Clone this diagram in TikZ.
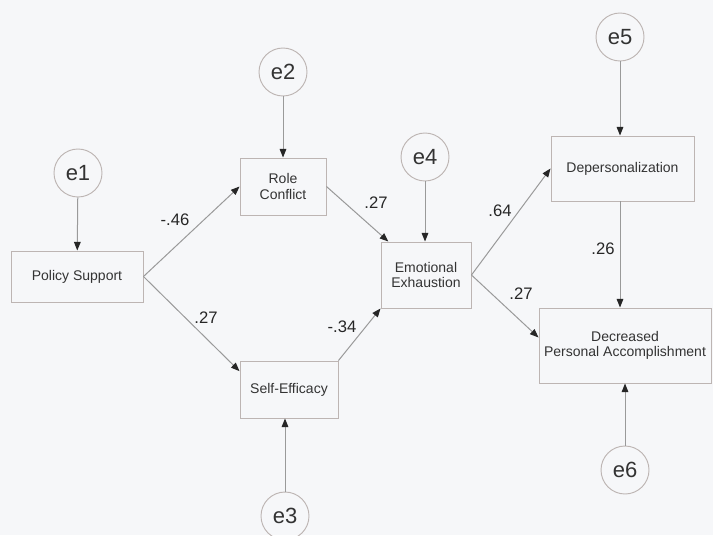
\documentclass[tikz,border=0pt]{standalone}
\usepackage{fontspec}
\setmainfont{Liberation Sans}
\usepackage{xcolor}
\usetikzlibrary{arrows.meta}

\definecolor{bgcol}{HTML}{F6F7F9}
\definecolor{boxline}{HTML}{BDB5B3}
\definecolor{linecol}{HTML}{9A9A9A}

\begin{document}
\begin{tikzpicture}[
    x=0.75pt, y=-0.75pt,
    every node/.style={align=center, text=black!80},
    box/.style={draw=boxline, line width=0.7pt, inner sep=0pt, font=\fontsize{10.5}{11.5}\selectfont},
    err/.style={circle, draw=boxline, line width=0.7pt, minimum size=36pt, inner sep=0pt, font=\fontsize{16.5}{17}\selectfont},
    coef/.style={font=\fontsize{12.5}{14}\selectfont, text=black!85},
    arrow/.style={-{Triangle[length=6.5pt, width=5pt, color=black!85]}, draw=linecol, line width=0.75pt}
]
\useasboundingbox (0,0) rectangle (713,535);
\fill[bgcol] (0,0) rectangle (713,535);

% observed variables
\node[box, minimum width=99pt, minimum height=38.25pt] (ps) at (77,276.5) {Policy Support};
\node[box, minimum width=64.5pt, minimum height=42.75pt] (rc) at (283,186.5) {Role\\Conflict};
\node[box, minimum width=73.5pt, minimum height=42.75pt] (se) at (289,389.5) {Self-Efficacy};
\node[box, minimum width=67.5pt, minimum height=49.5pt] (ee) at (426,275) {Emotional\\Exhaustion};
\node[box, minimum width=107.25pt, minimum height=48.75pt] (dep) at (622.5,168.5) {Depersonalization};
\node[box, minimum width=129pt, minimum height=56.25pt] (dpa) at (625,345.5) {Decreased\\Personal Accomplishment};

% error terms
\node[err] (e1) at (78,173) {e1};
\node[err] (e2) at (283,72) {e2};
\node[err] (e3) at (285,516) {e3};
\node[err] (e4) at (425,157) {e4};
\node[err] (e5) at (620,37) {e5};
\node[err] (e6) at (625,470) {e6};

% paths
\draw[arrow] (e1) -- (ps);
\draw[arrow] (e2) -- (rc);
\draw[arrow] (e3) -- (e3 |- se.south);
\draw[arrow] (e4) -- (e4 |- ee.north);
\draw[arrow] (e5) -- (e5 |- dep.north);
\draw[arrow] (e6) -- (dpa);
\draw[arrow] (ps.east) -- (rc.west);
\draw[arrow] (ps.east) -- ([yshift=-8pt]se.north west);
\draw[arrow] (rc.east) -- (ee);
\draw[arrow] (se.north east) -- (ee.south west);
\draw[arrow] (ee.east) -- (dep.west);
\draw[arrow] (ee.east) -- ([yshift=6pt]dpa.west);
\draw[arrow] (e5 |- dep.south) -- (e5 |- dpa.north);

% coefficients
\node[coef] (c1) at (175,220) {-.46};
\node[coef] (c2) at (206,318) {.27};
\node[coef] (c3) at (376,203) {.27};
\node[coef] (c4) at (342,327) {-.34};
\node[coef] (c5) at (500,211) {.64};
\node[coef] (c6) at (521,294) {.27};
\node[coef] (c7) at (603,249) {.26};
\end{tikzpicture}
\end{document}
